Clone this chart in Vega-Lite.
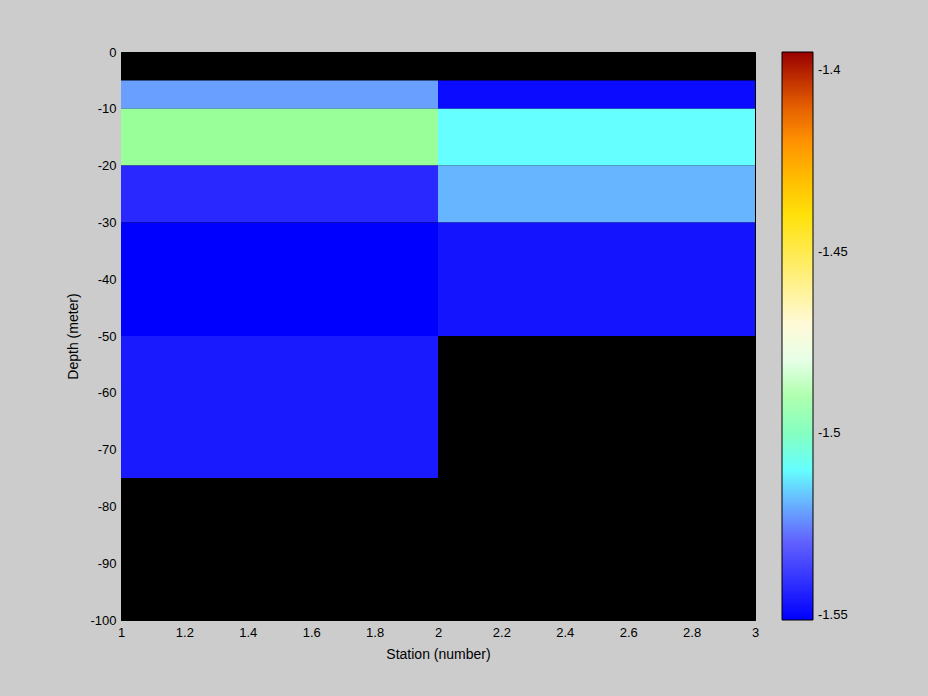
{
  "$schema": "https://vega.github.io/schema/vega-lite/v6.json",
  "autosize": {"type": "none"},
  "padding": {"left": 121, "top": 52, "right": 173, "bottom": 76},
  "width": 634,
  "height": 568,
  "background": "#cccccc",
  "config": {
    "view": {"fill": "black", "stroke": "black", "strokeWidth": 1},
    "font": "Liberation Sans",
    "axis": {"labelColor": "black", "titleColor": "black", "labelFontSize": 13, "titleFontSize": 14, "titleFontWeight": "normal", "grid": false, "ticks": false, "domainColor": "black", "labelFont": "Liberation Sans", "titleFont": "Liberation Sans"},
    "legend": {"labelFont": "Liberation Sans"}
  },
  "data": {
    "values": [
      {"s0": 1, "s1": 2, "d0": -5, "d1": -10, "value": -1.5215},
      {"s0": 1, "s1": 2, "d0": -10, "d1": -20, "value": -1.4936},
      {"s0": 1, "s1": 2, "d0": -20, "d1": -30, "value": -1.5425},
      {"s0": 1, "s1": 2, "d0": -30, "d1": -50, "value": -1.5514},
      {"s0": 1, "s1": 2, "d0": -50, "d1": -75, "value": -1.5457},
      {"s0": 2, "s1": 3, "d0": -5, "d1": -10, "value": -1.549},
      {"s0": 2, "s1": 3, "d0": -10, "d1": -20, "value": -1.5101},
      {"s0": 2, "s1": 3, "d0": -20, "d1": -30, "value": -1.519},
      {"s0": 2, "s1": 3, "d0": -30, "d1": -50, "value": -1.547}
    ]
  },
  "mark": {"type": "rect"},
  "encoding": {
    "x": {
      "field": "s0", "type": "quantitative",
      "scale": {"domain": [1, 3], "nice": false, "zero": false},
      "axis": {"title": "Station (number)", "values": [1, 1.2, 1.4, 1.6, 1.8, 2, 2.2, 2.4, 2.6, 2.8, 3], "labelExpr": "toString(datum.value)", "labelPadding": 6, "titlePadding": 8, "labelFlush": false}
    },
    "x2": {"field": "s1"},
    "y": {
      "field": "d0", "type": "quantitative",
      "scale": {"domain": [-100, 0], "nice": false, "zero": false},
      "axis": {"title": "Depth (meter)", "values": [-100, -90, -80, -70, -60, -50, -40, -30, -20, -10, 0], "labelExpr": "toString(datum.value)", "labelPadding": 5, "titlePadding": 9, "labelFlush": false}
    },
    "y2": {"field": "d1"},
    "color": {
      "field": "value", "type": "quantitative",
      "scale": {
        "type": "linear",
        "domain": [-1.5514, -1.528, -1.5101, -1.4936, -1.4757, -1.4386, -1.4153, -1.3951],
        "range": ["#0000ff", "#6a6aff", "#66ffff", "#99ff99", "#ffffff", "#ffe000", "#ff8000", "#990000"],
        "interpolate": "rgb"
      },
      "legend": {
        "title": null,
        "orient": "none",
        "legendX": 661,
        "legendY": 0,
        "direction": "vertical",
        "gradientLength": 568,
        "gradientThickness": 31,
        "gradientStrokeColor": "black",
        "gradientStrokeWidth": 1,
        "values": [-1.4, -1.45, -1.5, -1.55],
        "labelExpr": "toString(datum.value)",
        "labelFontSize": 13,
        "labelColor": "black",
        "labelOffset": 5,
        "labelOverlap": false,
        "padding": 0,
        "offset": 0
      }
    }
  }
}
